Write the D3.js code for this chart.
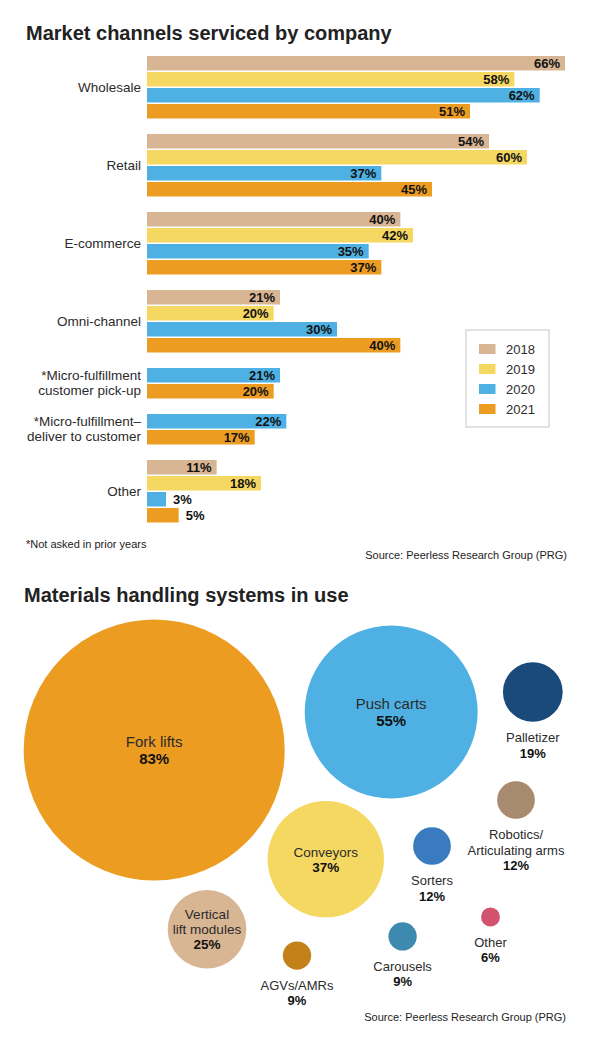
<!DOCTYPE html>
<html>
<head>
<meta charset="utf-8">
<script src="https://cdn.jsdelivr.net/npm/d3@7"></script>
<style>
    body { margin: 0; background: #fff; }
    svg { display: block; font-family: "Liberation Sans", Arial, sans-serif; }
</style>
</head>
<body>
<svg id="chart" width="595" height="1045"></svg>
<script>
// --- market channels (bars) ---
let channels = ['Wholesale', 'Retail', 'E-commerce', 'Omni-channel',
    '*Micro-fulfillment\ncustomer pick-up', '*Micro-fulfillment–\ndeliver to customer', 'Other'];
let years = ['2018', '2019', '2020', '2021'];
let v2018 = [66, 54, 40, 21, null, null, 11];
let v2019 = [58, 60, 42, 20, null, null, 18];
let v2020 = [62, 37, 35, 30, 21, 22, 3];
let v2021 = [51, 45, 37, 40, 20, 17, 5];

// --- materials handling systems (bubbles) ---
let systems = ['Fork lifts', 'Push carts', 'Palletizer', 'Robotics/\nArticulating arms', 'Conveyors',
    'Sorters', 'Vertical\nlift modules', 'AGVs/AMRs', 'Carousels', 'Other'];
let systemShare = [83, 55, 19, 12, 37, 12, 25, 9, 9, 6];

let yearColors = ['#d8b593', '#f5d862', '#4fb1e3', '#ed9c22'];
let bubbleColors = ['#ed9c22', '#4fb1e3', '#1a4a79', '#a88b6f', '#f5d862',
    '#3a7bc0', '#d8b593', '#c48019', '#3e89b0', '#d3536f'];

// where each bubble sits (layout units, 0..100 across the plot box)
let bubbleSpots = [
    [25.7, 37.5], [65.2, 28.0], [88.8, 23.0], [86.0, 50.0], [54.3, 64.8],
    [72.0, 61.5], [34.5, 82.3], [49.5, 88.9], [67.1, 84.1], [81.75, 79.25]
];
let labelInside = [true, true, false, false, true, false, true, false, false, false];

let series = [v2018, v2019, v2020, v2021];
let svg = d3.select('#chart');

// titles
svg.append('text').attr('x', 26).attr('y', 40)
    .attr('font-size', 20).attr('font-weight', 'bold').attr('fill', '#222')
    .text('Market channels serviced by company');
svg.append('text').attr('x', 24).attr('y', 602)
    .attr('font-size', 20).attr('font-weight', 'bold').attr('fill', '#222')
    .text('Materials handling systems in use');

// bar chart
let x = d3.scaleLinear().domain([0, d3.max(v2018)]).range([147, 565]);
let slot = 16, barGap = 1.5, groupGap = 15.5;

let groups = channels.map((name, i) => {
    let bars = years.map((yr, j) => ({year: yr, color: yearColors[j], value: series[j][i]}))
        .filter(b => b.value != null);
    return {name: name, bars: bars};
});

let yCursor = 56;
groups.forEach(g => {
    let h = g.bars.length * slot - barGap;
    g.y = d3.scaleBand().domain(g.bars.map(b => b.year))
        .range([yCursor, yCursor + h]).paddingInner(barGap / slot);
    g.mid = yCursor + h / 2;
    yCursor += h + groupGap;
});

let gBars = svg.append('g');
groups.forEach(g => {
    let row = gBars.append('g');
    let lines = g.name.split('\n');
    row.append('text')
        .attr('text-anchor', 'end')
        .attr('font-size', 13.5)
        .attr('fill', '#2b2b2b')
        .selectAll('tspan')
        .data(lines)
        .enter().append('tspan')
        .attr('x', 141)
        .attr('y', (d, i) => g.mid + (i - (lines.length - 1) / 2) * 15)
        .attr('dy', '0.35em')
        .text(d => d);

    row.selectAll('rect')
        .data(g.bars)
        .enter().append('rect')
        .attr('x', x(0))
        .attr('y', d => g.y(d.year))
        .attr('width', d => x(d.value) - x(0))
        .attr('height', g.y.bandwidth())
        .attr('fill', d => d.color);

    row.selectAll('text.val')
        .data(g.bars)
        .enter().append('text')
        .attr('class', 'val')
        .attr('x', d => x(d.value) - x(0) > 36 ? x(d.value) - 5 : x(d.value) + 7)
        .attr('y', d => g.y(d.year) + g.y.bandwidth() / 2)
        .attr('dy', '0.36em')
        .attr('text-anchor', d => x(d.value) - x(0) > 36 ? 'end' : 'start')
        .attr('font-size', 13)
        .attr('font-weight', 'bold')
        .attr('fill', '#111')
        .text(d => d.value + '%');
});

// legend
let legend = svg.append('g').attr('transform', 'translate(466,330)');
legend.append('rect').attr('width', 83).attr('height', 97)
    .attr('fill', '#fff').attr('stroke', '#cfcfcf').attr('stroke-width', 1.2);
let item = legend.selectAll('g.item')
    .data(years)
    .enter().append('g')
    .attr('transform', (d, i) => `translate(13,${19 + i * 20})`);
item.append('rect').attr('y', -5).attr('width', 16.5).attr('height', 10)
    .attr('fill', (d, i) => yearColors[i]);
item.append('text').attr('x', 27).attr('dy', '0.36em')
    .attr('font-size', 13).attr('fill', '#2b2b2b').text(d => d);

svg.append('text').attr('x', 26).attr('y', 548)
    .attr('font-size', 11).attr('fill', '#222').text('*Not asked in prior years');
svg.append('text').attr('x', 567).attr('y', 559).attr('text-anchor', 'end')
    .attr('font-size', 11).attr('fill', '#222').text('Source: Peerless Research Group (PRG)');

// bubble chart
let bx = d3.scaleLinear().domain([0, 100]).range([0, 600]);
let by = d3.scaleLinear().domain([0, 100]).range([600, 1000]);
let r = d3.scaleLinear().domain([0, d3.max(systemShare)]).range([0, 130.5]);

let bubbles = systems.map((name, i) => ({
    name: name,
    value: systemShare[i],
    color: bubbleColors[i],
    cx: bx(bubbleSpots[i][0]),
    cy: by(bubbleSpots[i][1]),
    inside: labelInside[i]
}));

let gBub = svg.append('g');
gBub.selectAll('circle')
    .data(bubbles)
    .enter().append('circle')
    .attr('cx', d => d.cx)
    .attr('cy', d => d.cy)
    .attr('r', d => r(d.value))
    .attr('fill', d => d.color);

bubbles.forEach(d => {
    let lines = d.name.split('\n').map(t => ({t: t, bold: false}));
    lines.push({t: d.value + '%', bold: true});
    let size = d.inside ? (r(d.value) > 80 ? 15 : 13.5) : 13;
    let lh = d.inside ? (r(d.value) > 80 ? 17 : 15) : 15.5;
    let y0 = d.inside ? d.cy - (lines.length - 1) * lh / 2 : d.cy + r(d.value) + 15.5;
    gBub.append('text')
        .attr('text-anchor', 'middle')
        .attr('font-size', size)
        .selectAll('tspan')
        .data(lines)
        .enter().append('tspan')
        .attr('x', d.cx)
        .attr('y', (l, i) => y0 + i * lh)
        .attr('dy', '0.36em')
        .attr('font-weight', l => l.bold ? 'bold' : 'normal')
        .attr('fill', l => l.bold ? '#111' : '#2b2b2b')
        .text(l => l.t);
});

svg.append('text').attr('x', 566).attr('y', 1021).attr('text-anchor', 'end')
    .attr('font-size', 11).attr('fill', '#222').text('Source: Peerless Research Group (PRG)');
</script>
</body>
</html>
